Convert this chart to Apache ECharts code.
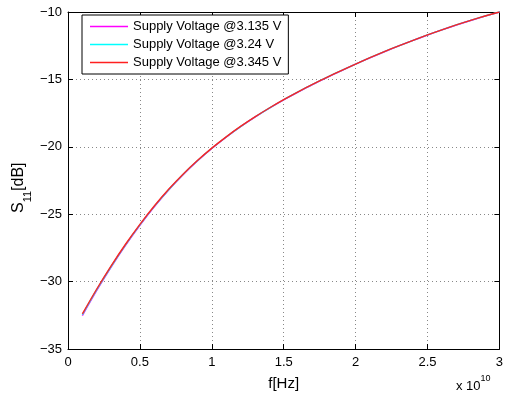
<!DOCTYPE html>
<html>
<head>
<meta charset="utf-8">
<script src="https://cdn.jsdelivr.net/npm/echarts@6/dist/echarts.min.js"></script>
<style>
  html, body { margin: 0; padding: 0; background: #fff; }
  #chart { width: 506px; height: 396px; }
</style>
</head>
<body>
<div id="chart"></div>
<script>
// Frequency in units of 1e10 Hz
const freq = [0.1, 0.2, 0.3, 0.4, 0.5, 0.6, 0.7, 0.8, 0.9, 1.0,
              1.1, 1.2, 1.3, 1.4, 1.5, 1.6, 1.7, 1.8, 1.9, 2.0,
              2.1, 2.2, 2.3, 2.4, 2.5, 2.6, 2.7, 2.8, 2.9, 3.0];

// S11 [dB] for each supply voltage
const s11_3135 = [-32.52, -30.66, -28.93, -27.32, -25.83, -24.46, -23.21, -22.08, -21.06, -20.13,
                  -19.29, -18.51, -17.80, -17.14, -16.52, -15.94, -15.38, -14.86, -14.36, -13.87,
                  -13.40, -12.95, -12.52, -12.11, -11.71, -11.33, -10.97, -10.63, -10.31, -10.01];
const s11_324  = [-32.46, -30.60, -28.88, -27.27, -25.79, -24.42, -23.18, -22.05, -21.04, -20.11,
                  -19.27, -18.50, -17.79, -17.13, -16.51, -15.93, -15.37, -14.85, -14.35, -13.86,
                  -13.39, -12.94, -12.51, -12.10, -11.70, -11.32, -10.96, -10.62, -10.30, -10.00];
const s11_3345 = [-32.40, -30.55, -28.83, -27.23, -25.75, -24.39, -23.15, -22.03, -21.02, -20.10,
                  -19.26, -18.49, -17.78, -17.12, -16.50, -15.92, -15.37, -14.85, -14.35, -13.86,
                  -13.39, -12.94, -12.51, -12.10, -11.70, -11.32, -10.96, -10.62, -10.30, -10.00];

const seriesNames = ['Supply Voltage @3.135 V', 'Supply Voltage @3.24 V', 'Supply Voltage @3.345 V'];
const seriesColors = ['#ff00ff', '#00ffff', '#ff2020'];
const seriesData = [s11_3135, s11_324, s11_3345];

const xTicks = { min: 0, max: 3, step: 0.5 };
const yTicks = { min: -35, max: -10, step: 5 };

const font = 'Liberation Sans, Arial, Helvetica, sans-serif';
const minus = v => String(v).replace('-', '\u2212');
// thin horizontal bar used as the legend sample line
const lineIcon = 'path://M0,0L40,0L40,1.5L0,1.5Z';

const chart = echarts.init(document.getElementById('chart'), null, { renderer: 'canvas' });

const baseAxis = {
  axisLine: { show: true, onZero: false, lineStyle: { color: '#000', width: 1 } },
  axisTick: { show: true, inside: true, length: 5, lineStyle: { color: '#000' } },
};

chart.setOption({
  backgroundColor: '#fff',
  animation: false,
  grid: { left: 68, right: 3, top: 12, bottom: 43, containLabel: false },
  legend: {
    data: seriesNames.map(n => ({ name: n, icon: lineIcon })),
    orient: 'vertical',
    left: 82, top: 15,
    padding: [5, 7, 5, 8],
    itemWidth: 38, itemHeight: 14, itemGap: 5,
    backgroundColor: '#fff',
    borderColor: '#000', borderWidth: 1,
    textStyle: { fontFamily: font, fontSize: 13, color: '#000' }
  },
  xAxis: [
    Object.assign({}, baseAxis, {
      type: 'value', position: 'bottom',
      min: xTicks.min, max: xTicks.max, interval: xTicks.step,
      name: 'f[Hz]', nameLocation: 'middle', nameGap: 27,
      nameTextStyle: { fontFamily: font, fontSize: 15, color: '#000' },
      axisLabel: { margin: 7, fontFamily: font, fontSize: 13, color: '#000' },
      splitLine: { show: true, lineStyle: { color: '#888', type: [1, 3], width: 1 } }
    }),
    Object.assign({}, baseAxis, {
      type: 'value', position: 'top',
      min: xTicks.min, max: xTicks.max, interval: xTicks.step,
      axisLabel: { show: false }, splitLine: { show: false }
    })
  ],
  yAxis: [
    Object.assign({}, baseAxis, {
      type: 'value', position: 'left',
      min: yTicks.min, max: yTicks.max, interval: yTicks.step,
      axisLabel: { margin: 6, fontFamily: font, fontSize: 13, color: '#000', formatter: minus },
      splitLine: { show: true, lineStyle: { color: '#888', type: [1, 3], width: 1 } }
    }),
    Object.assign({}, baseAxis, {
      type: 'value', position: 'right',
      min: yTicks.min, max: yTicks.max, interval: yTicks.step,
      axisLabel: { show: false }, splitLine: { show: false }
    })
  ],
  series: seriesData.map((vals, i) => ({
    name: seriesNames[i],
    type: 'line',
    xAxisIndex: 0, yAxisIndex: 0,
    data: freq.map((f, j) => [f, vals[j]]),
    symbol: 'none',
    smooth: 0.3,
    lineStyle: { color: seriesColors[i], width: 1.4 },
    itemStyle: { color: seriesColors[i] },
    z: 2 + i
  })),
  graphic: [
    {
      type: 'text',
      left: 456, top: 374,
      style: {
        text: '{a|x 10}{b|10}',
        rich: {
          a: { fontFamily: font, fontSize: 13, fill: '#000', verticalAlign: 'bottom', lineHeight: 19 },
          b: { fontFamily: font, fontSize: 9, fill: '#000', verticalAlign: 'top', lineHeight: 19 }
        }
      }
    },
    {
      type: 'text',
      x: 11, y: 213,
      rotation: Math.PI / 2,
      style: {
        text: '{a|S}{b|11}{a|[dB]}',
        rich: {
          a: { fontFamily: font, fontSize: 16, fill: '#000', verticalAlign: 'top', lineHeight: 22 },
          b: { fontFamily: font, fontSize: 11, fill: '#000', verticalAlign: 'bottom', lineHeight: 22 }
        }
      }
    }
  ]
});
</script>
</body>
</html>
